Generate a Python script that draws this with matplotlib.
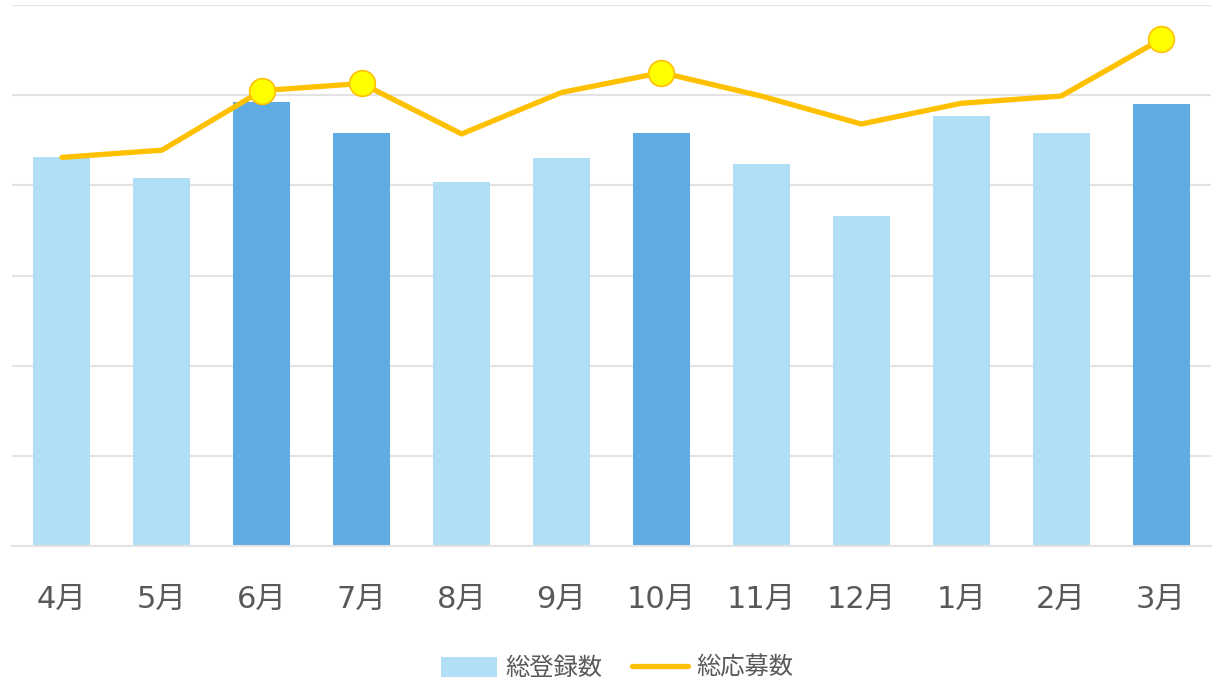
import matplotlib
matplotlib.use("Agg")
import matplotlib.pyplot as plt
from matplotlib.lines import Line2D
from matplotlib.patches import Patch

plt.rcParams['font.family'] = ['DejaVu Sans', 'Noto Sans CJK JP']

months = ["4月", "5月", "6月", "7月", "8月", "9月", "10月", "11月", "12月", "1月", "2月", "3月"]
registrations = [4.31, 4.08, 4.92, 4.58, 4.04, 4.30, 4.58, 4.24, 3.66, 4.77, 4.58, 4.90]
applications = [4.31, 4.39, 5.05, 5.13, 4.57, 5.03, 5.25, 4.99, 4.68, 4.91, 4.99, 5.62]
highlight = [False, False, True, True, False, False, True, False, False, False, False, True]
bar_label = "総登録数"
line_label = "総応募数"

light = "#B1DFF5"
dark = "#5EACE3"
line_c = "#FFC000"
text_c = "#595959"
grid_c = "#E3E3E3"

fig = plt.figure(figsize=(12.15, 6.82), dpi=100)
ax = fig.add_axes([12/1215, (682-546)/682, (1211-12)/1215, (546-5)/682])

x = list(range(len(months)))
colors = [dark if h else light for h in highlight]
ax.bar(x, registrations, width=0.57, color=colors, zorder=2)
ax.plot(x, applications, color=line_c, lw=3.8, solid_capstyle='round', solid_joinstyle='round', zorder=3)
hx = [i for i in x if highlight[i]]
hy = [applications[i] for i in x if highlight[i]]
ax.plot(hx, hy, 'o', ms=18.5, mfc="#FFFF00", mec=line_c, mew=1.2, zorder=4, linestyle='none')

ax.set_xlim(-0.5, len(months) - 0.5)
ax.set_ylim(0, 6)
ax.set_yticks(range(0, 7))
ax.set_yticklabels([])
ax.tick_params(axis='y', length=0)
ax.yaxis.grid(True, color=grid_c, lw=1.5, zorder=0)
ax.set_axisbelow(True)
ax.set_xticks(x)
ax.set_xticklabels(months, fontsize=22, color=text_c)
ax.tick_params(axis='x', length=0, pad=28)
for s in ['top', 'right', 'left']:
    ax.spines[s].set_visible(False)
ax.spines['bottom'].set_color(grid_c)
ax.spines['bottom'].set_linewidth(1.5)

handles = [Patch(facecolor=light, edgecolor='none'),
           Line2D([0], [0], color=line_c, lw=3.8, solid_capstyle='round')]
fig.legend(handles, [bar_label, line_label], loc='center', bbox_to_anchor=(0.508, 1 - 668/682),
           ncol=2, frameon=False, fontsize=17.5, labelcolor=text_c, handlelength=2.3,
           handleheight=0.9, columnspacing=1.2, handletextpad=0.35)

fig.savefig("out.png", dpi=100)
